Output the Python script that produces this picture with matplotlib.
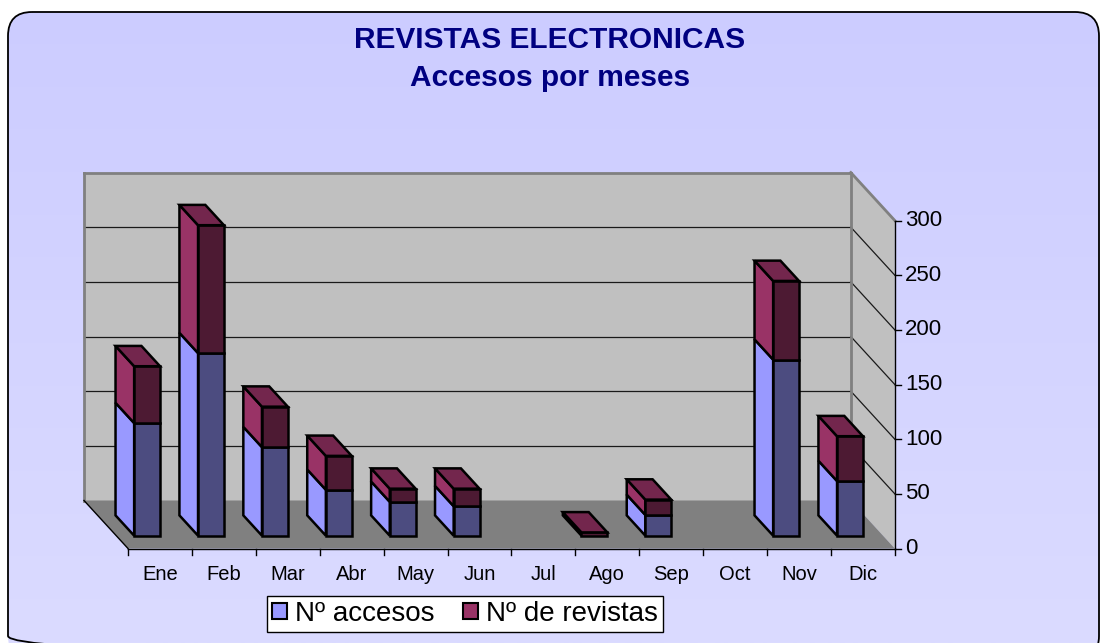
import numpy as np
import matplotlib
matplotlib.use("Agg")
import matplotlib.pyplot as plt
from matplotlib.patches import Polygon, FancyBboxPatch, Patch

plt.rcParams["font.family"] = ["Liberation Sans", "DejaVu Sans"]

# ---- data -------------------------------------------------------------
months = ["Ene", "Feb", "Mar", "Abr", "May", "Jun",
          "Jul", "Ago", "Sep", "Oct", "Nov", "Dic"]
accesos = [103, 167, 81, 42, 31, 27, 0, 0, 19, 0, 161, 50]
revistas = [52, 117, 37, 31, 12, 16, 0, 3, 14, 0, 72, 41]
value_ticks = [0, 50, 100, 150, 200, 250, 300]
series_names = ["Nº accesos", "Nº de revistas"]
title_lines = ["REVISTAS ELECTRONICAS", "Accesos por meses"]

# ---- layout (pixels) --------------------------------------------------
W, H = 1104, 643
X0, CW = 128.0, 63.9        # left edge of the front plane, width of one category
Y0, VS = 548.5, 1.0933      # baseline of the front plane, pixels per value unit
DX = -44.0 / CW             # oblique offset of full depth, in category units
DY = 48.0 / VS              # oblique offset of full depth, in value units
D0, D1 = 0.267, 0.69        # depth range occupied by the bars
XA, XB = 0.28, 0.685        # bar span inside a category
VMAX = value_ticks[-1]
N = len(months)

fig = plt.figure(figsize=(W / 100, H / 100), dpi=100)

# background: rounded frame with soft vertical gradient
bg = fig.add_axes([0, 0, 1, 1], zorder=0)
bg.axis("off")
t = np.linspace(0, 1, 256)[:, None, None]
c_top = np.array([204, 204, 255]) / 255
c_bot = np.array([219, 219, 255]) / 255
grad = c_top + (c_bot - c_top) * t
im = bg.imshow(grad, extent=(0, W, H, 0), aspect="auto",
               interpolation="bilinear", zorder=0)
bg.set_xlim(0, W)
bg.set_ylim(H, 0)
frame = FancyBboxPatch((8, 12), 1091, 648,
                       boxstyle="round,pad=0,rounding_size=24",
                       fc="none", ec="black", lw=1.3, zorder=2)
bg.add_patch(frame)
im.set_clip_path(frame)

# plotting axes: x in categories, y in values on the front plane
ax = fig.add_axes([0, 0, 1, 1], zorder=1)
ax.patch.set_visible(False)
ax.axis("off")
ax.set_xlim((0 - X0) / CW, (W - X0) / CW)
ax.set_ylim((Y0 - H) / VS, Y0 / VS)


def P(x, v, d):
    """Oblique projection of (category, value, depth) onto the axes."""
    return (x + d * DX, v + d * DY)


def seg(p, q, **kw):
    ax.plot([p[0], q[0]], [p[1], q[1]], solid_capstyle="projecting", **kw)


# walls and floor
ax.add_patch(Polygon([P(0, 0, 1), P(N, 0, 1), P(N, VMAX, 1), P(0, VMAX, 1)],
                     fc="#c0c0c0", ec="none", zorder=1))
ax.add_patch(Polygon([P(N, 0, 0), P(N, 0, 1), P(N, VMAX, 1), P(N, VMAX, 0)],
                     fc="#c0c0c0", ec="none", zorder=1))
ax.add_patch(Polygon([P(0, 0, 0), P(N, 0, 0), P(N, 0, 1), P(0, 0, 1)],
                     fc="#808080", ec="none", zorder=1))

# gridlines on back and side walls
for v in value_ticks[1:-1]:
    seg(P(0, v, 1), P(N, v, 1), color="#1a1a1a", lw=0.9, zorder=2)
    seg(P(N, v, 1), P(N, v, 0), color="#1a1a1a", lw=0.9, zorder=2)

# wall outlines
for p, q in [(P(0, 0, 1), P(0, VMAX, 1)),
             (P(0, VMAX, 1), P(N, VMAX, 1)),
             (P(N, 0, 1), P(N, VMAX, 1)),
             (P(N, VMAX, 1), P(N, VMAX, 0))]:
    seg(p, q, color="#808080", lw=2.0, zorder=2)
seg(P(0, 0, 0), P(N, 0, 0), color="black", lw=1.0, zorder=2)
seg(P(0, 0, 0), P(0, 0, 1), color="black", lw=1.0, zorder=2)
seg(P(N, 0, 0), P(N, VMAX, 0), color="black", lw=1.0, zorder=2)

# ticks and labels
tick_len_v = 6.5 / VS
tick_len_x = 6.5 / CW
for i in range(N + 1):
    seg(P(i, 0, 0), P(i, -tick_len_v, 0), color="black", lw=1.0, zorder=2)
for i, m in enumerate(months):
    ax.text(i + 0.5, -25.5 / VS, m, ha="center", va="center",
            fontsize=14.5, color="black")
for v in value_ticks:
    seg(P(N, v, 0), P(N + tick_len_x, v, 0), color="black", lw=1.0, zorder=2)
    ax.text(N + 10 / CW, v, str(v), ha="left", va="center",
            fontsize=16, color="black")

# stacked 3-D bars
faces = {
    0: dict(side="#9999ff", front="#4c4c80", top="#7373bf"),
    1: dict(side="#993366", front="#4d1a33", top="#73264d"),
}
edge = dict(ec="black", lw=1.8, joinstyle="miter", zorder=5)
for i in range(N):
    vals = [accesos[i], revistas[i]]
    base = 0.0
    xa, xb = i + XA, i + XB
    for k, val in enumerate(vals):
        if val <= 0:
            continue
        v0, v1 = base, base + val
        c = faces[k]
        ax.add_patch(Polygon([P(xa, v0, D0), P(xa, v1, D0),
                              P(xa, v1, D1), P(xa, v0, D1)],
                             fc=c["side"], **edge))
        ax.add_patch(Polygon([P(xa, v0, D0), P(xb, v0, D0),
                              P(xb, v1, D0), P(xa, v1, D0)],
                             fc=c["front"], **edge))
        above = sum(vals[k + 1:])
        if above <= 0:
            ax.add_patch(Polygon([P(xa, v1, D0), P(xb, v1, D0),
                                  P(xb, v1, D1), P(xa, v1, D1)],
                                 fc=c["top"], **edge))
        base = v1

# title
bg.text(550, 40, title_lines[0], ha="center", va="center",
        fontsize=21.5, fontweight="bold", color="#000080", zorder=3)
bg.text(550, 78, title_lines[1], ha="center", va="center",
        fontsize=21.5, fontweight="bold", color="#000080", zorder=3)

# legend
handles = [Patch(fc=faces[0]["side"], ec="black", lw=1.5),
           Patch(fc=faces[1]["side"], ec="black", lw=1.5)]
leg = bg.legend(handles, series_names, loc="center",
                bbox_to_anchor=(465, 614), bbox_transform=bg.transData,
                ncol=2, fontsize=20, frameon=True, fancybox=False,
                framealpha=1, edgecolor="black", facecolor="white",
                borderpad=0.18, handlelength=0.55, handleheight=0.5,
                handletextpad=0.3, columnspacing=1.0, borderaxespad=0)
leg.get_frame().set_linewidth(1.0)
leg.set_zorder(4)

fig.savefig("out.png", dpi=100)
